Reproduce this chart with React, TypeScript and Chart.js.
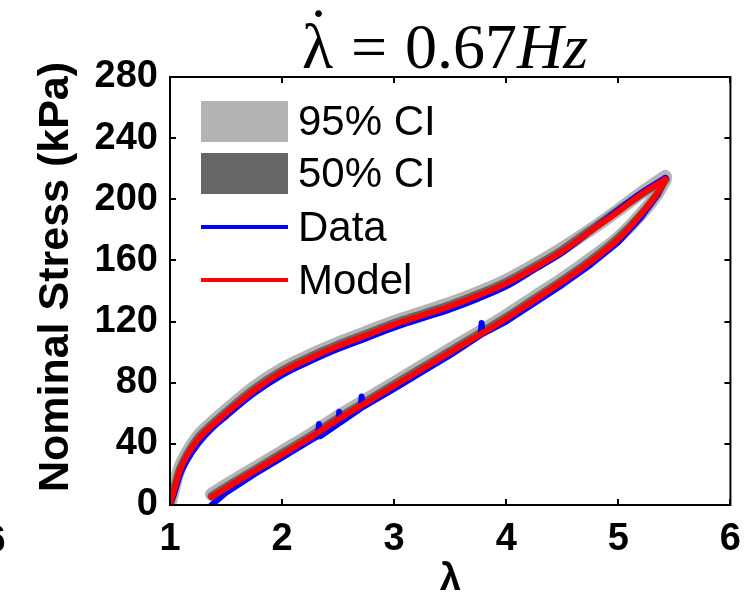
import { useEffect, useRef } from 'react';
import { Chart, registerables } from 'chart.js';

Chart.register(...registerables);

// ---- data ----
const xTickValues = [1, 2, 3, 4, 5, 6];
const yTickValues = [0, 40, 80, 120, 160, 200, 240, 280];

// unloading branch (upper curve)
const upperX = [1.0, 1.03, 1.06, 1.09, 1.15, 1.25, 1.36, 1.5, 1.75, 2.0, 2.25, 2.5, 2.75, 3.0, 3.25, 3.5, 3.75, 4.0, 4.25, 4.5, 4.75, 5.0, 5.2, 5.42];
const upperModel = [0, 8, 16, 23, 32, 43, 51, 60, 75, 87, 96, 104, 111, 118, 124, 130, 137, 145, 155, 166, 179, 192, 203, 213];
const upperCI95 = [1, 10, 18, 25, 34, 45, 53, 62, 77, 89, 98, 106, 113, 120, 126, 132, 139, 147, 157, 168, 180, 193, 204, 215];
const upperCI50 = [0, 9, 17, 24, 33, 44, 52, 61, 76, 88, 97, 105, 112, 119, 125, 131, 138, 146, 156, 167, 180, 193, 203, 213];
const upperData = [0, 6, 13, 20, 29, 40, 49, 58, 73, 85, 94, 102, 109, 116, 122, 128, 135, 143, 154, 165, 179, 193, 204, 214];

// loading branch (lower curve)
const lowerX = [1.37, 1.5, 1.75, 2.0, 2.25, 2.5, 2.75, 3.0, 3.25, 3.5, 3.8, 4.0, 4.25, 4.5, 4.75, 5.0, 5.2, 5.35, 5.42];
const lowerModel = [5, 11, 22, 33, 44, 56, 67, 78, 89, 100, 113, 122, 134, 146, 159, 174, 190, 204, 213];
const lowerCI95 = [7, 13, 24, 35, 46, 58, 69, 80, 91, 102, 115, 124, 136, 148, 161, 175, 190, 204, 213];
const lowerCI50 = [6, 12, 23, 34, 45, 57, 68, 79, 90, 101, 114, 123, 135, 147, 160, 175, 190, 204, 213];
const lowerDataX = [1.37, 1.5, 1.75, 2.0, 2.25, 2.32, 2.33, 2.34, 2.5, 2.51, 2.52, 2.7, 2.71, 2.72, 3.0, 3.25, 3.5, 3.77, 3.78, 3.79, 4.0, 4.25, 4.5, 4.75, 5.0, 5.2, 5.35, 5.42];
const lowerDataY = [0, 8, 20, 31, 42, 45, 53, 45, 53, 61, 54, 63, 71, 64, 76, 87, 98, 111, 119, 112, 120, 132, 144, 157, 172, 188, 203, 214];

const legendLabels = ['95% CI', '50% CI', 'Data', 'Model'];
const yTitle = 'Nominal Stress (kPa)';
const titleLambda = 'λ';
const titleEq = '=';
const titleRest = '0.67';
const titleUnit = 'Hz';

const C95 = '#b4b4b4';
const C50 = '#666666';
const CDATA = '#0000ff';
const CMODEL = '#ff0000';

const SANS = '"Liberation Sans", Arial, Helvetica, sans-serif';
const SERIF = '"Liberation Serif", "Times New Roman", serif';

const pts = (xs: number[], ys: number[]) => xs.map((x, i) => ({ x, y: ys[i] }));

const overlay = {
  id: 'overlay',
  afterDraw(chart: any) {
    const { ctx, chartArea: a, scales } = chart;
    ctx.save();
    // frame
    ctx.strokeStyle = '#000';
    ctx.lineWidth = 2;
    ctx.strokeRect(a.left, a.top, a.right - a.left, a.bottom - a.top);
    // inward ticks on all sides
    const L = 6;
    ctx.beginPath();
    xTickValues.forEach((v) => {
      const px = Math.round(scales.x.getPixelForValue(v));
      ctx.moveTo(px, a.bottom);
      ctx.lineTo(px, a.bottom - L);
      ctx.moveTo(px, a.top);
      ctx.lineTo(px, a.top + L);
    });
    yTickValues.forEach((v) => {
      const py = Math.round(scales.y.getPixelForValue(v));
      ctx.moveTo(a.left, py);
      ctx.lineTo(a.left + L, py);
      ctx.moveTo(a.right, py);
      ctx.lineTo(a.right - L, py);
    });
    ctx.stroke();

    // legend
    const lx0 = a.left + 31;
    const lx1 = a.left + 118;
    const tx = a.left + 128;
    const rows = [a.top + 44, a.top + 96, a.top + 150, a.top + 203];
    ctx.font = `42px ${SANS}`;
    ctx.textBaseline = 'middle';
    ctx.textAlign = 'left';
    legendLabels.forEach((lab, i) => {
      const cy = rows[i];
      if (i < 2) {
        ctx.fillStyle = i === 0 ? C95 : C50;
        ctx.fillRect(lx0, cy - 20, lx1 - lx0, 41);
      } else {
        ctx.strokeStyle = i === 2 ? CDATA : CMODEL;
        ctx.lineWidth = 4;
        ctx.beginPath();
        ctx.moveTo(lx0, cy);
        ctx.lineTo(lx1, cy);
        ctx.stroke();
      }
      ctx.fillStyle = '#000';
      ctx.fillText(lab, tx, cy + 2);
    });

    // y axis title
    ctx.save();
    ctx.translate(56, 277);
    ctx.rotate(-Math.PI / 2);
    ctx.font = `bold 43px ${SANS}`;
    ctx.textAlign = 'center';
    ctx.textBaseline = 'middle';
    ctx.fillText(yTitle, 0, 0);
    ctx.restore();

    // title  (λ̇ = 0.67Hz)
    const size = 64;
    const fNorm = `${size}px ${SERIF}`;
    const fItal = `italic ${size}px ${SERIF}`;
    const gap = size * 0.28;
    ctx.textBaseline = 'alphabetic';
    ctx.textAlign = 'left';
    ctx.font = fNorm;
    const wL = ctx.measureText(titleLambda).width;
    const wE = ctx.measureText(titleEq).width;
    const wR = ctx.measureText(titleRest).width;
    ctx.font = fItal;
    const wU = ctx.measureText(titleUnit).width;
    const total = wL + gap + wE + gap + wR + wU;
    let x = 445 - total / 2;
    const base = 68;
    ctx.fillStyle = '#000';
    ctx.font = fNorm;
    ctx.fillText(titleLambda, x, base);
    ctx.textAlign = 'center';
    ctx.fillText('˙', x + wL / 2 + 1, base - 16);
    ctx.textAlign = 'left';
    x += wL + gap;
    ctx.fillText(titleEq, x, base);
    x += wE + gap;
    ctx.fillText(titleRest, x, base);
    x += wR;
    ctx.font = fItal;
    ctx.fillText(titleUnit, x, base);

    // stray tick label of a neighbouring panel, cut at the left edge
    ctx.font = `bold 38px ${SANS}`;
    ctx.textAlign = 'center';
    ctx.textBaseline = 'middle';
    ctx.fillText('6', -5, 542);
    ctx.restore();
  },
};

export default function App() {
  const ref = useRef<HTMLCanvasElement>(null);
  useEffect(() => {
    if (!ref.current) return;
    const line = (label: string, data: any[], color: string, width: number, order: number, smooth = true) => ({
      label,
      data,
      showLine: true,
      borderColor: color,
      backgroundColor: color,
      borderWidth: width,
      pointRadius: 0,
      fill: false,
      order,
      borderCapStyle: 'round',
      borderJoinStyle: 'round',
      cubicInterpolationMode: smooth ? 'monotone' : 'default',
      tension: 0,
    });
    const chart = new Chart(ref.current, {
      type: 'scatter',
      data: {
        datasets: [
          line('Model', pts(upperX, upperModel), CMODEL, 6, 1),
          line('Model', pts(lowerX, lowerModel), CMODEL, 6, 1),
          line('Data', pts(upperX, upperData), CDATA, 6, 2),
          line('Data', pts(lowerDataX, lowerDataY), CDATA, 6, 2, false),
          line('50% CI', pts(upperX, upperCI50), C50, 8, 3),
          line('50% CI', pts(lowerX, lowerCI50), C50, 8, 3),
          line('95% CI', pts(upperX, upperCI95), C95, 13, 4),
          line('95% CI', pts(lowerX, lowerCI95), C95, 13, 4),
        ] as any,
      },
      options: {
        responsive: false,
        animation: false,
        devicePixelRatio: 1,
        layout: { padding: { top: 77, right: 22, left: 0, bottom: 0 } },
        plugins: {
          legend: { display: false },
          title: { display: false },
          tooltip: { enabled: false },
        },
        scales: {
          x: {
            type: 'linear',
            min: 1,
            max: 6,
            grid: { display: false, drawTicks: false },
            border: { display: false },
            ticks: {
              stepSize: 1,
              padding: 12,
              color: '#000',
              font: { family: SANS, size: 38, weight: 'bold' },
            },
            title: {
              display: true,
              text: 'λ',
              color: '#000',
              font: { family: SANS, size: 38, weight: 'bold' },
              padding: { top: 0, bottom: 2 },
            },
            afterFit: (s: any) => {
              s.height = 99;
            },
          },
          y: {
            type: 'linear',
            min: 0,
            max: 280,
            grid: { display: false, drawTicks: false },
            border: { display: false },
            ticks: {
              stepSize: 40,
              padding: 12,
              color: '#000',
              font: { family: SANS, size: 38, weight: 'bold' },
            },
            title: { display: false },
            afterFit: (s: any) => {
              s.width = 170;
            },
          },
        },
      } as any,
      plugins: [overlay],
    });
    return () => chart.destroy();
  }, []);
  return (
    <div style={{ position: 'fixed', left: 0, top: 0, width: 753, height: 604, background: '#fff' }}>
      <canvas ref={ref} width={753} height={604} />
    </div>
  );
}
